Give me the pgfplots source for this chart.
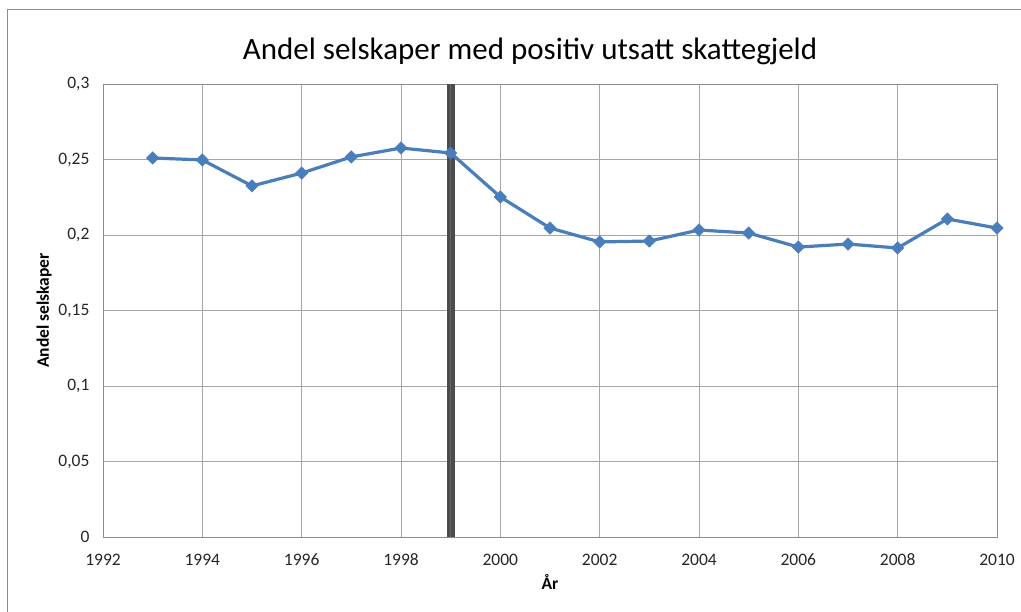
\documentclass[border=0pt]{standalone}
\usepackage{pgfplots}
\pgfplotsset{compat=1.18}
\usepackage{fontspec}
\setmainfont{Carlito}
\definecolor{serie}{HTML}{4A7EBB}
\definecolor{gridc}{HTML}{A6A6A6}
\definecolor{bordc}{HTML}{8C8C8C}
\begin{document}
\begin{tikzpicture}
\begin{axis}[
  name=ax,
  scale only axis,
  width=894pt, height=453pt,
  xmin=1992, xmax=2010, ymin=0, ymax=0.3,
  xtick={1992,1994,...,2010},
  minor x tick num=1,
  ytick={0,0.05,...,0.31},
  grid=both,
  major grid style={gridc, line width=0.8pt},
  minor grid style={gridc!80, line width=0.8pt},
  axis line style={bordc, line width=0.8pt},
  major tick length=0pt, minor tick length=0pt,
  tick label style={font=\fontsize{17.5}{20}\selectfont, text=black!85},
  /pgf/number format/assume math mode=true,
  yticklabel style={/pgf/number format/fixed, /pgf/number format/use comma, /pgf/number format/precision=2, /pgf/number format/1000 sep={}, xshift=-10pt},
  xticklabel style={/pgf/number format/1000 sep={}, anchor=base, yshift=-28pt},
  title={Andel selskaper med positiv utsatt skattegjeld},
  title style={font=\fontsize{31}{36}\selectfont, yshift=10pt, xshift=-20pt},
  xlabel={\textbf{År}},
  ylabel={\textbf{Andel selskaper}},
  label style={font=\fontsize{17.5}{20}\selectfont},
  xlabel style={yshift=-2pt},
  ylabel style={yshift=0pt},
]
\addplot[draw=black!70, line width=8pt, forget plot] coordinates {(1999,0) (1999,0.3)};
\addplot[draw=black!60, line width=1pt, forget plot] coordinates {(1999,0) (1999,0.3)};
\addplot[serie, line width=3.2pt, mark=square*, mark size=4.4pt, mark options={solid, rotate=45, fill=serie, draw=serie, line width=0.5pt}]
coordinates {
(1993,0.2510) (1994,0.2497) (1995,0.2325) (1996,0.2410) (1997,0.2517)
(1998,0.2576) (1999,0.2543) (2000,0.2252) (2001,0.2046) (2002,0.1954)
(2003,0.1960) (2004,0.2033) (2005,0.2013) (2006,0.1920) (2007,0.1940)
(2008,0.1914) (2009,0.2106) (2010,0.2046)
};
\end{axis}
\pgfresetboundingbox
\path[use as bounding box] ([xshift=-103pt,yshift=-75pt]ax.south west) rectangle ([xshift=24pt,yshift=84pt]ax.north east);
\draw[bordc, line width=1pt] ([xshift=-95pt,yshift=-80pt]ax.south west) -- ([xshift=-95pt,yshift=74pt]ax.north west) -- ([xshift=30pt,yshift=74pt]ax.north east);
\end{tikzpicture}
\end{document}
